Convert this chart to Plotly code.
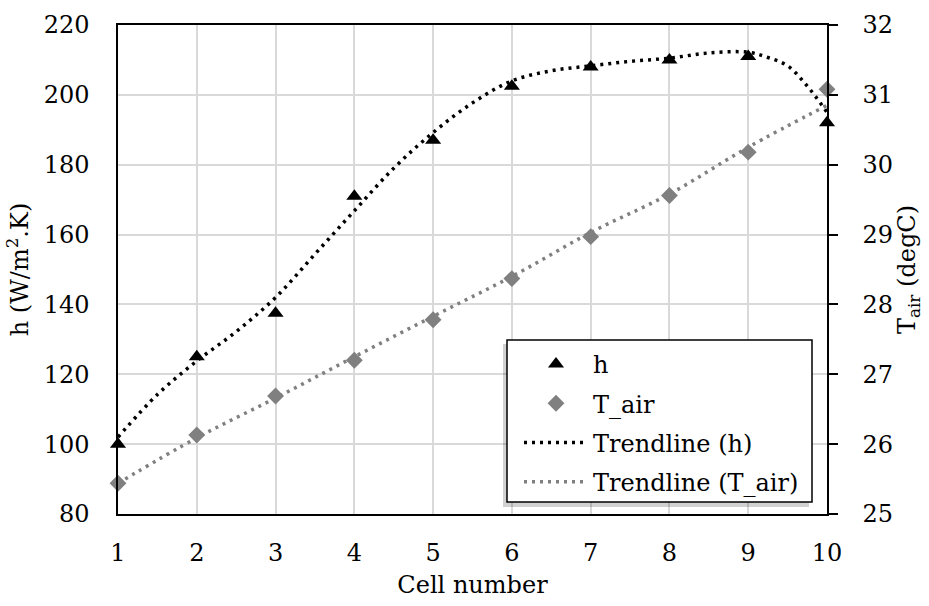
import plotly.graph_objects as go

# ---- data ----
cells = [1, 2, 3, 4, 5, 6, 7, 8, 9, 10]
h_vals = [100, 125, 137.5, 171, 187, 202.5, 208, 210, 211, 192]
t_air_vals = [25.44, 26.13, 26.69, 27.2, 27.78, 28.37, 28.97, 29.56, 30.18, 31.08]

trend_h_x = [1, 1.5, 2, 2.5, 3, 3.5, 4, 4.5, 5, 5.5, 6, 6.5, 7, 7.5, 8, 8.5, 9, 9.25, 9.5, 9.75, 10]
trend_h_y = [102, 114.2, 123.8, 132.2, 142, 154.4, 166.8, 179, 189.2, 197.7, 204, 206.9, 208.3, 209.6,
             210.5, 212, 212.2, 210.7, 208.3, 202.5, 195]
trend_t_x = [1, 2, 3, 4, 5, 6, 7, 8, 9, 10]
trend_t_y = [25.44, 26.09, 26.66, 27.25, 27.83, 28.4, 29.03, 29.58, 30.25, 30.85]

x_ticks = cells
h_ticks = [80, 100, 120, 140, 160, 180, 200, 220]
t_ticks = [25, 26, 27, 28, 29, 30, 31, 32]

FONT = "DejaVu Serif"
FS = 24
W, H = 929, 606
ML, MR, MT, MB = 118, 102, 25, 92
GRAY = "#808080"

fig = go.Figure()
fig.add_trace(go.Scatter(x=cells, y=h_vals, mode="markers", name="h", legendgroup="g1",
                         marker=dict(symbol="triangle-up", size=14, color="black"),
                         cliponaxis=False))
fig.add_trace(go.Scatter(x=cells, y=t_air_vals, mode="markers", name="T_air", yaxis="y2", legendgroup="g2",
                         marker=dict(symbol="diamond", size=13, color=GRAY),
                         cliponaxis=False))
fig.add_trace(go.Scatter(x=trend_h_x, y=trend_h_y, mode="lines", name="Trendline (h)", legendgroup="g3",
                         line=dict(color="black", width=3.5, dash="3px,5px", shape="spline")))
fig.add_trace(go.Scatter(x=trend_t_x, y=trend_t_y, mode="lines", name="Trendline (T_air)", yaxis="y2",
                         legendgroup="g4",
                         line=dict(color=GRAY, width=3.5, dash="3px,5px", shape="spline")))

pw = W - ML - MR
ph = H - MT - MB
def px2paper_x(px):
    return (px - ML) / pw
def px2paper_y(py):
    return (H - MB - py) / ph

# legend shadow and box
fig.add_shape(type="rect", xref="paper", yref="paper",
              x0=px2paper_x(503), x1=px2paper_x(809), y0=px2paper_y(507), y1=px2paper_y(344),
              fillcolor="rgba(0,0,0,0.18)", line=dict(width=0), layer="above")
fig.add_shape(type="rect", xref="paper", yref="paper",
              x0=px2paper_x(507), x1=px2paper_x(812), y0=px2paper_y(502), y1=px2paper_y(340),
              fillcolor="white", line=dict(color="black", width=1.5), layer="above")

fig.update_layout(
    width=W, height=H, autosize=False,
    margin=dict(l=ML, r=MR, t=MT, b=MB),
    paper_bgcolor="white", plot_bgcolor="white",
    font=dict(family=FONT, size=FS, color="black"),
    showlegend=True,
    legend=dict(x=px2paper_x(519), y=px2paper_y(342), xanchor="left", yanchor="top",
                bgcolor="rgba(0,0,0,0)", borderwidth=0,
                font=dict(family=FONT, size=FS, color="black"),
                itemwidth=64, tracegroupgap=5, traceorder="grouped"),
    xaxis=dict(range=[1, 10], tickvals=x_ticks, showgrid=True, gridcolor="#d9d9d9", gridwidth=1.5,
               showline=True, linecolor="black", linewidth=1.5, mirror=True, zeroline=False,
               ticks="", tickfont=dict(family=FONT, size=FS), ticklabelstandoff=16,
               title=dict(text="Cell number", font=dict(family=FONT, size=FS), standoff=11)),
    yaxis=dict(range=[80, 220], tickvals=h_ticks, showgrid=True, gridcolor="#d9d9d9", gridwidth=1.5,
               showline=True, linecolor="black", linewidth=1.5, zeroline=False,
               ticks="", tickfont=dict(family=FONT, size=FS), ticklabelstandoff=22,
               title=dict(text="h (W/m<sup>2</sup>.K)", font=dict(family=FONT, size=FS), standoff=8)),
    yaxis2=dict(range=[25, 32], tickvals=t_ticks, overlaying="y", side="right", showgrid=False,
                showline=True, linecolor="black", linewidth=1.5, zeroline=False,
                ticks="outside", ticklen=9, tickwidth=1.5, tickcolor="black",
                tickfont=dict(family=FONT, size=FS), ticklabelstandoff=20,
                title=dict(text="T<sub>air</sub> (degC)", font=dict(family=FONT, size=FS), standoff=6)),
)

fig.write_html("out.html")
